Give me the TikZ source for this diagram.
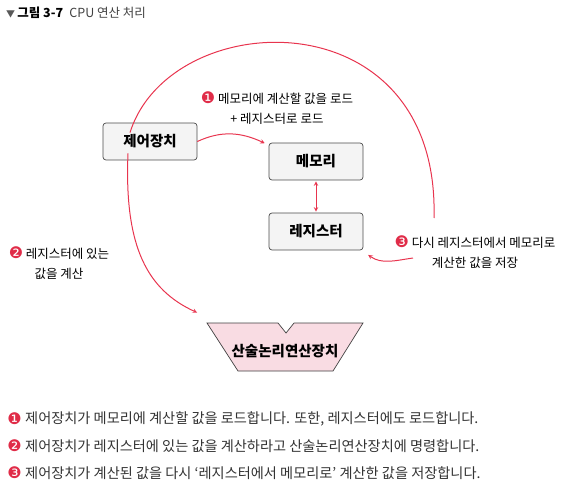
\documentclass[tikz,border=0pt]{standalone}
\usepackage{fontspec}
\setmainfont{Noto Sans CJK KR}
\newfontfamily\dingfont{DejaVu Sans}
\usetikzlibrary{positioning}
\definecolor{linered}{HTML}{E8344E}
\definecolor{badgered}{HTML}{E02C48}
\definecolor{boxgray}{HTML}{F4F4F4}
\definecolor{alupink}{HTML}{F9DCE3}
\newcommand{\numbadge}[1]{{\dingfont\fontsize{16}{16}\selectfont\color{badgered}#1}}

\begin{document}
\begin{tikzpicture}[
    x=1pt, y=-1pt,
    >=stealth,
    box/.style={
        draw=black!70,
        fill=boxgray,
        rounded corners=3pt,
        line width=0.7pt,
        minimum width=94pt,
        minimum height=37pt,
        font=\fontsize{14.5}{16}\selectfont\bfseries
    },
    lbl/.style={
        align=center,
        font=\fontsize{12.5}{20}\selectfont
    },
    item/.style={
        anchor=west,
        inner sep=0pt,
        font=\fontsize{14.2}{16}\selectfont,
        text=black!80
    },
    redline/.style={draw=linered, line width=1pt},
    arr/.style={->, redline, shorten >=1pt}
]
    \useasboundingbox (0,0) rectangle (577,502);

    % title
    \node[anchor=west, inner sep=0pt, font=\fontsize{12.5}{14}\selectfont] (title) at (6,13)
        {{\color{black!65}\fontsize{9}{10}\selectfont ▼}\,\textbf{그림 3-7}\enspace{\color{black!75}CPU 연산 처리}};

    % units
    \node[box] (ctrl) at (150,141.5) {제어장치};
    \node[box] (mem) at (316,161.5) {메모리};
    \node[box] (reg) at (316,231.5) {레지스터};

    \draw[fill=alupink, draw=black!75, line width=0.7pt]
        (207,323) -- (278,323) -- (286,333) -- (294,323) -- (363,323)
        -- (333,371) -- (238,371) -- cycle;
    \node[font=\fontsize{14.5}{16}\selectfont\bfseries] (alu) at (285,351) {산술논리연산장치};

    % labels
    \node[lbl] (step1) at (277,108)
        {\numbadge{❶} 메모리에 계산할 값을 로드\\+ 레지스터로 로드};
    \node[lbl] (step2) at (59,263)
        {\numbadge{❷} 레지스터에 있는\\값을 계산};
    \node[lbl] (step3) at (475,252)
        {\numbadge{❸} 다시 레지스터에서 메모리로\\계산한 값을 저장};

    \coordinate (arcend) at (434,218);
    \coordinate (back) at (413,258);
    \coordinate (aluin) at (198,313);

    % connectors
    \draw[arr] (ctrl.east) to[out=25, in=155] ([xshift=-3pt,yshift=-1pt]mem.north west);
    \draw[<->, redline, shorten <=1pt, shorten >=1pt] (mem) -- (reg);
    \draw[redline] ([xshift=-20pt,yshift=-10pt]ctrl.north)
        .. controls (170,5) and (440,-5) .. (arcend);
    \draw[arr] (back) to[out=188, in=-35] ([xshift=4pt,yshift=-4pt]reg.south east);
    \draw[arr] ([xshift=-22pt,yshift=7pt]ctrl.south)
        .. controls (124,248) and (148,290) .. (aluin);

    % notes
    \node[item] (n1) at (25,419) {제어장치가 메모리에 계산할 값을 로드합니다. 또한, 레지스터에도 로드합니다.};
    \node[item] (n2) at (25,446) {제어장치가 레지스터에 있는 값을 계산하라고 산술논리연산장치에 명령합니다.};
    \node[item] (n3) at (25,473) {제어장치가 계산된 값을 다시 ‘레지스터에서 메모리로’ 계산한 값을 저장합니다.};
    \node[left=3pt of n1, inner sep=0pt] (b1) {\numbadge{❶}};
    \node[left=3pt of n2, inner sep=0pt] (b2) {\numbadge{❷}};
    \node[left=3pt of n3, inner sep=0pt] (b3) {\numbadge{❸}};
\end{tikzpicture}
\end{document}
